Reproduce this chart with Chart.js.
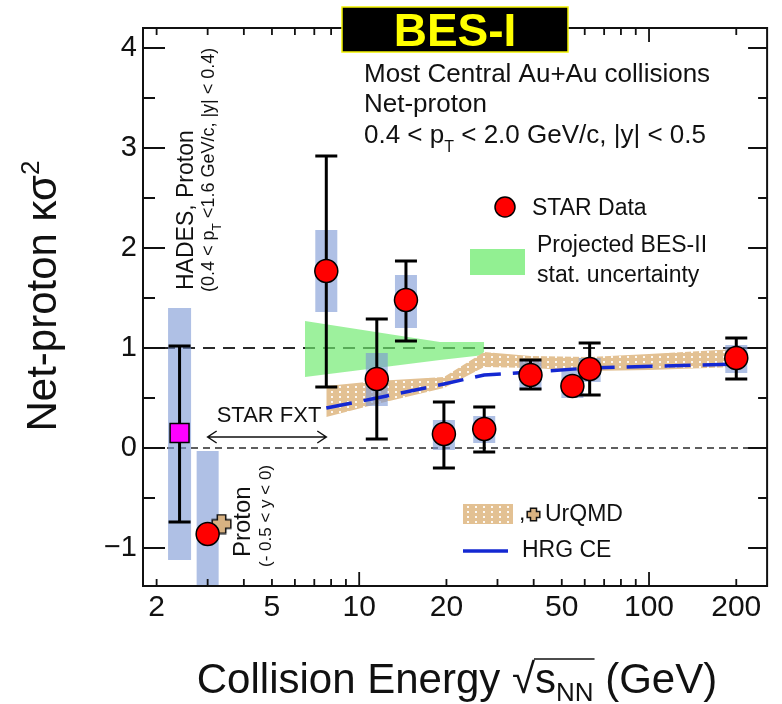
<!DOCTYPE html>
<html>
<head>
<meta charset="utf-8">
<title>Net-proton κσ² vs collision energy</title>
<script src="https://cdn.jsdelivr.net/npm/chart.js@4/dist/chart.umd.min.js"></script>
<style>
  html, body { margin: 0; padding: 0; background: #fff; }
</style>
</head>
<body>
<canvas id="myChart" width="782" height="704"></canvas>
<script>
// STAR net-proton kappa*sigma^2, most central Au+Au
const starEnergy = [3.0, 7.7, 11.5, 14.5, 19.6, 27, 39, 54.4, 62.4, 200];
const starKappa  = [-0.86, 1.77, 0.69, 1.48, 0.14, 0.19, 0.73, 0.62, 0.79, 0.90];
const starStatHi = [null, 2.92, 1.29, 1.87, 0.46, 0.41, 0.88, null, 1.05, 1.10];
const starStatLo = [null, 0.61, 0.09, 1.07, -0.20, -0.04, 0.59, null, 0.53, 0.69];
const starSysHi  = [-0.03, 2.18, 0.95, 1.73, 0.28, 0.32, 0.87, 0.78, 0.90, 1.03];
const starSysLo  = [-1.67, 1.36, 0.42, 1.20, -0.02, 0.05, 0.58, 0.50, 0.66, 0.75];

// HADES proton point
const hadesEnergy = [2.4];
const hadesKappa  = [0.15];
const hadesStatHi = [1.02];
const hadesStatLo = [-0.74];
const hadesSysHi  = [1.40];
const hadesSysLo  = [-1.12];

// UrQMD band and FXT point
const urqmdEnergy = [7.7, 11.5, 19.6, 27, 39, 62.4, 100, 200];
const urqmdHi     = [0.62, 0.67, 0.71, 0.96, 0.92, 0.91, 0.94, 0.99];
const urqmdLo     = [0.31, 0.44, 0.60, 0.81, 0.80, 0.77, 0.78, 0.81];
const urqmdFxtEnergy = [3.35];
const urqmdFxtKappa  = [-0.76];

// HRG canonical ensemble
const hrgEnergy = [7.7, 11.5, 19.6, 27, 39, 62.4, 200];
const hrgKappa  = [0.40, 0.50, 0.64, 0.73, 0.76, 0.80, 0.84];

// projected BES-II statistical uncertainty
const besEnergy = [6.5, 19, 27];
const besHi     = [1.27, 1.06, 1.06];
const besLo     = [0.71, 0.88, 0.93];

const xTicks = [2, 5, 10, 20, 50, 100, 200];
const yTicks = [-1, 0, 1, 2, 3, 4];
const yMinor = [-0.5, 0.5, 1.5, 2.5, 3.5];
const xMinor = [2, 3, 4, 5, 6, 7, 8, 9, 20, 30, 40, 50, 60, 70, 80, 90, 200];
const xMajor = [10, 100];

const FONT = "'Liberation Sans', Arial, Helvetica, sans-serif";
const BOX_BLUE = 'rgba(122,150,212,0.6)';

function pairs(xs, ys) {
  return xs.map((x, i) => ({ x: x, y: ys[i] }));
}

// tan fill with white dotted columns for the UrQMD band
function makeDotPattern(ctx) {
  const c = document.createElement('canvas');
  c.width = 8; c.height = 5;
  const g = c.getContext('2d');
  g.fillStyle = '#e3c193';
  g.fillRect(0, 0, 8, 5);
  g.fillStyle = 'rgba(255,255,255,0.9)';
  g.fillRect(3, 1, 2, 2);
  return ctx.createPattern(c, 'repeat');
}

// filled plus marker with black outline
function makePlus(size) {
  const c = document.createElement('canvas');
  c.width = size; c.height = size;
  const g = c.getContext('2d');
  const m = size / 2, arm = size / 2 - 1.2, t = size * 0.2;
  const pts = [
    [m - t, m - arm], [m + t, m - arm], [m + t, m - t], [m + arm, m - t],
    [m + arm, m + t], [m + t, m + t], [m + t, m + arm], [m - t, m + arm],
    [m - t, m + t], [m - arm, m + t], [m - arm, m - t], [m - t, m - t]
  ];
  g.beginPath();
  pts.forEach((p, i) => i ? g.lineTo(p[0], p[1]) : g.moveTo(p[0], p[1]));
  g.closePath();
  g.fillStyle = '#d8b282';
  g.fill();
  g.lineWidth = 1.5;
  g.strokeStyle = '#111';
  g.stroke();
  return c;
}

// draw a run of [text, size, dy] pieces left to right, returns end x
function drawParts(ctx, parts, x, y) {
  let cx = x;
  parts.forEach(p => {
    ctx.font = p[1] + 'px ' + FONT;
    ctx.fillText(p[0], cx, y + (p[2] || 0));
    cx += ctx.measureText(p[0]).width;
  });
  return cx;
}

function partsWidth(ctx, parts) {
  let w = 0;
  parts.forEach(p => {
    ctx.font = p[1] + 'px ' + FONT;
    w += ctx.measureText(p[0]).width;
  });
  return w;
}

function drawBoxes(chart) {
  const { ctx, chartArea: a, scales: { x, y } } = chart;
  ctx.save();
  ctx.beginPath();
  ctx.rect(a.left, a.top, a.right - a.left, a.bottom - a.top);
  ctx.clip();
  ctx.fillStyle = BOX_BLUE;
  const put = (e, lo, hi, half) => {
    const px = x.getPixelForValue(e);
    const top = y.getPixelForValue(hi), bot = y.getPixelForValue(lo);
    ctx.fillRect(px - half, top, half * 2, bot - top);
  };
  hadesEnergy.forEach((e, i) => put(e, hadesSysLo[i], hadesSysHi[i], 11.5));
  starEnergy.forEach((e, i) => put(e, starSysLo[i], starSysHi[i], 11));
  ctx.restore();
}

function drawErrorBars(chart) {
  const { ctx, scales: { x, y } } = chart;
  ctx.save();
  ctx.strokeStyle = '#000';
  ctx.lineWidth = 3;
  const bar = (e, lo, hi) => {
    if (lo === null || hi === null) return;
    const px = x.getPixelForValue(e);
    const t = y.getPixelForValue(hi), b = y.getPixelForValue(lo);
    ctx.beginPath();
    ctx.moveTo(px, t); ctx.lineTo(px, b);
    ctx.moveTo(px - 11, t); ctx.lineTo(px + 11, t);
    ctx.moveTo(px - 11, b); ctx.lineTo(px + 11, b);
    ctx.stroke();
  };
  hadesEnergy.forEach((e, i) => bar(e, hadesStatLo[i], hadesStatHi[i]));
  starEnergy.forEach((e, i) => bar(e, starStatLo[i], starStatHi[i]));
  ctx.restore();
}

const decor = {
  id: 'decor',
  beforeDatasetsDraw(chart) {
    const { ctx, chartArea: a, scales: { y } } = chart;
    ctx.save();
    ctx.strokeStyle = '#2a2a2a';
    ctx.lineWidth = 1.8;
    ctx.setLineDash([12, 8]);
    ctx.beginPath();
    ctx.moveTo(a.left, y.getPixelForValue(1));
    ctx.lineTo(a.right, y.getPixelForValue(1));
    ctx.stroke();
    ctx.lineWidth = 1.5;
    ctx.setLineDash([7, 5]);
    ctx.beginPath();
    ctx.moveTo(a.left, y.getPixelForValue(0));
    ctx.lineTo(a.right, y.getPixelForValue(0));
    ctx.stroke();
    ctx.restore();
  },
  beforeDatasetDraw(chart, args) {
    const label = chart.data.datasets[args.index].label;
    if (label === 'HRG CE') drawBoxes(chart);
    if (label === 'HADES') drawErrorBars(chart);
  },
  afterDraw(chart) {
    const { ctx, chartArea: a, scales: { x, y } } = chart;
    ctx.save();

    // frame and inward ticks on all four sides
    ctx.strokeStyle = '#111';
    ctx.lineWidth = 2;
    ctx.strokeRect(a.left, a.top, a.right - a.left, a.bottom - a.top);
    ctx.lineWidth = 1.8;
    ctx.beginPath();
    const yTick = (v, lenL, lenR) => {
      const py = y.getPixelForValue(v);
      ctx.moveTo(a.left, py); ctx.lineTo(a.left + lenL, py);
      ctx.moveTo(a.right, py); ctx.lineTo(a.right - lenR, py);
    };
    yTicks.forEach(v => yTick(v, 22, 19));
    yMinor.forEach(v => yTick(v, 12, 9));
    const xTick = (v, len) => {
      const px = x.getPixelForValue(v);
      ctx.moveTo(px, a.bottom); ctx.lineTo(px, a.bottom - len);
      ctx.moveTo(px, a.top); ctx.lineTo(px, a.top + len);
    };
    xMajor.forEach(v => xTick(v, 14));
    xMinor.forEach(v => xTick(v, 7));
    ctx.stroke();

    ctx.fillStyle = '#111';
    ctx.textAlign = 'left';
    ctx.textBaseline = 'alphabetic';

    // axis titles
    const xt = [['Collision Energy ', 42], ['\u221A', 42], ['s', 42], ['NN', 26, 8], [' (GeV)', 42]];
    let cx = 457 - partsWidth(ctx, xt) / 2;
    cx = drawParts(ctx, xt.slice(0, 1), cx, 693);
    cx = drawParts(ctx, xt.slice(1, 2), cx, 693);
    const barStart = cx - 1;
    cx = drawParts(ctx, xt.slice(2, 4), cx, 693);
    const barEnd = cx + 1;
    drawParts(ctx, xt.slice(4), cx, 693);
    ctx.lineWidth = 1.5;
    ctx.beginPath();
    ctx.moveTo(barStart, 659);
    ctx.lineTo(barEnd, 659);
    ctx.stroke();

    const yt = [['Net-proton \u03BA\u03C3', 42], ['2', 26, -17]];
    ctx.save();
    ctx.translate(56, 296);
    ctx.rotate(-Math.PI / 2);
    drawParts(ctx, yt, -partsWidth(ctx, yt) / 2, 0);
    ctx.restore();

    // collision system text
    ctx.font = '26px ' + FONT;
    ctx.fillText('Most Central Au+Au collisions', 364, 82);
    ctx.fillText('Net-proton', 364, 112);
    drawParts(ctx, [['0.4 < p', 26], ['T', 16, 9], [' < 2.0 GeV/c, |y| < 0.5', 26]], 364, 143);

    // HADES acceptance labels
    ctx.save();
    ctx.translate(193, 290);
    ctx.rotate(-Math.PI / 2);
    drawParts(ctx, [['HADES, Proton', 23]], 0, 0);
    ctx.restore();
    ctx.save();
    ctx.translate(214, 292);
    ctx.rotate(-Math.PI / 2);
    drawParts(ctx, [['(0.4 < p', 18], ['T', 12, 7], [' <1.6 GeV/c, |y| < 0.4)', 18]], 0, 0);
    ctx.restore();

    // FXT labels
    ctx.save();
    ctx.translate(250, 557);
    ctx.rotate(-Math.PI / 2);
    drawParts(ctx, [['Proton', 24]], 0, 0);
    ctx.restore();
    ctx.save();
    ctx.translate(271, 567);
    ctx.rotate(-Math.PI / 2);
    drawParts(ctx, [['(- 0.5 < y < 0)', 17]], 0, 0);
    ctx.restore();

    ctx.font = '22px ' + FONT;
    ctx.textAlign = 'center';
    ctx.fillText('STAR FXT', 269, 422);
    ctx.textAlign = 'left';
    const ax0 = x.getPixelForValue(starEnergy[0]), ax1 = x.getPixelForValue(starEnergy[1]);
    const ay = 437;
    ctx.lineWidth = 1.5;
    ctx.beginPath();
    ctx.moveTo(ax0, ay); ctx.lineTo(ax1, ay);
    ctx.moveTo(ax0 + 9, ay - 6); ctx.lineTo(ax0, ay); ctx.lineTo(ax0 + 9, ay + 6);
    ctx.moveTo(ax1 - 9, ay - 6); ctx.lineTo(ax1, ay); ctx.lineTo(ax1 - 9, ay + 6);
    ctx.stroke();

    // legend
    ctx.textBaseline = 'middle';
    ctx.font = '23px ' + FONT;
    ctx.beginPath();
    ctx.arc(505, 207, 10, 0, Math.PI * 2);
    ctx.fillStyle = '#ff0000';
    ctx.fill();
    ctx.lineWidth = 1.5;
    ctx.strokeStyle = '#000';
    ctx.stroke();
    ctx.fillStyle = '#111';
    ctx.fillText('STAR Data', 532, 209);

    ctx.fillStyle = 'rgba(110,235,110,0.75)';
    ctx.fillRect(470, 249, 55, 26);
    ctx.fillStyle = '#111';
    ctx.fillText('Projected BES-II', 537, 246);
    ctx.fillText('stat. uncertainty', 537, 276);

    ctx.fillStyle = dotPattern;
    ctx.fillRect(463, 504, 50, 20);
    ctx.fillStyle = '#111';
    ctx.fillText(',', 519, 514);
    ctx.drawImage(plusSmall, 526, 507);
    ctx.fillText('UrQMD', 545, 515);

    ctx.strokeStyle = '#1428d2';
    ctx.lineWidth = 3.5;
    ctx.beginPath();
    ctx.moveTo(463, 551); ctx.lineTo(508, 551);
    ctx.stroke();
    ctx.fillStyle = '#111';
    ctx.fillText('HRG CE', 522, 551);

    // BES-I badge
    ctx.fillStyle = '#000';
    ctx.fillRect(342, 7, 226, 45);
    ctx.strokeStyle = '#f2f200';
    ctx.lineWidth = 1.5;
    ctx.strokeRect(342, 7, 226, 45);
    ctx.fillStyle = '#ffff00';
    ctx.font = 'bold 46px ' + FONT;
    ctx.textAlign = 'center';
    ctx.textBaseline = 'alphabetic';
    ctx.fillText('BES-I', 455, 46);

    ctx.restore();
  }
};

const canvas = document.getElementById('myChart');
const ctx2d = canvas.getContext('2d');
const dotPattern = makeDotPattern(ctx2d);
const plusMark = makePlus(21);
const plusSmall = makePlus(15);

Chart.defaults.font.family = FONT;
Chart.defaults.color = '#111';

const myChart = new Chart(ctx2d, {
  type: 'scatter',
  data: {
    datasets: [
      {
        label: 'STAR Data',
        data: pairs(starEnergy, starKappa),
        pointStyle: 'circle',
        pointRadius: 11.5,
        backgroundColor: '#ff0000',
        borderColor: '#000',
        borderWidth: 1.5,
        order: 0
      },
      {
        label: 'UrQMD FXT',
        data: pairs(urqmdFxtEnergy, urqmdFxtKappa),
        pointStyle: plusMark,
        order: 1
      },
      {
        label: 'HADES',
        data: pairs(hadesEnergy, hadesKappa),
        pointStyle: 'rect',
        pointRadius: 13.4,
        backgroundColor: '#ff00ff',
        borderColor: '#000',
        borderWidth: 1.5,
        order: 2
      },
      {
        label: 'HRG CE',
        data: pairs(hrgEnergy, hrgKappa),
        showLine: true,
        pointRadius: 0,
        borderColor: '#1428d2',
        borderWidth: 3.5,
        borderDash: [26, 12],
        fill: false,
        order: 3
      },
      {
        label: 'UrQMD low',
        data: pairs(urqmdEnergy, urqmdLo),
        showLine: true,
        pointRadius: 0,
        borderWidth: 0,
        fill: false,
        order: 5
      },
      {
        label: 'UrQMD',
        data: pairs(urqmdEnergy, urqmdHi),
        showLine: true,
        pointRadius: 0,
        borderWidth: 0,
        backgroundColor: dotPattern,
        fill: '-1',
        order: 4
      },
      {
        label: 'BES-II low',
        data: pairs(besEnergy, besLo),
        showLine: true,
        pointRadius: 0,
        borderWidth: 0,
        fill: false,
        order: 7
      },
      {
        label: 'Projected BES-II',
        data: pairs(besEnergy, besHi),
        showLine: true,
        pointRadius: 0,
        borderWidth: 0,
        backgroundColor: 'rgba(110,235,110,0.68)',
        fill: '-1',
        order: 6
      }
    ]
  },
  options: {
    responsive: false,
    animation: false,
    events: [],
    layout: { padding: { left: 0, top: 28, right: 10, bottom: 0 } },
    plugins: {
      legend: { display: false },
      tooltip: { enabled: false }
    },
    scales: {
      x: {
        type: 'logarithmic',
        min: 1.795,
        max: 255.5,
        grid: { display: false, drawTicks: false },
        border: { display: false },
        afterBuildTicks: scale => { scale.ticks = xTicks.map(v => ({ value: v })); },
        afterFit: scale => { scale.height = 118; },
        ticks: {
          autoSkip: false,
          maxRotation: 0,
          padding: 4,
          font: { size: 30 },
          color: '#111',
          callback: v => String(v)
        }
      },
      y: {
        min: -1.38,
        max: 4.2,
        grid: { display: false, drawTicks: false },
        border: { display: false },
        afterBuildTicks: scale => { scale.ticks = yTicks.map(v => ({ value: v })); },
        afterFit: scale => { scale.width = 143; },
        ticks: {
          padding: 6,
          font: { size: 29 },
          color: '#111',
          callback: v => (v < 0 ? '\u2212' + Math.abs(v) : String(v))
        }
      }
    }
  },
  plugins: [decor]
});
</script>
</body>
</html>
